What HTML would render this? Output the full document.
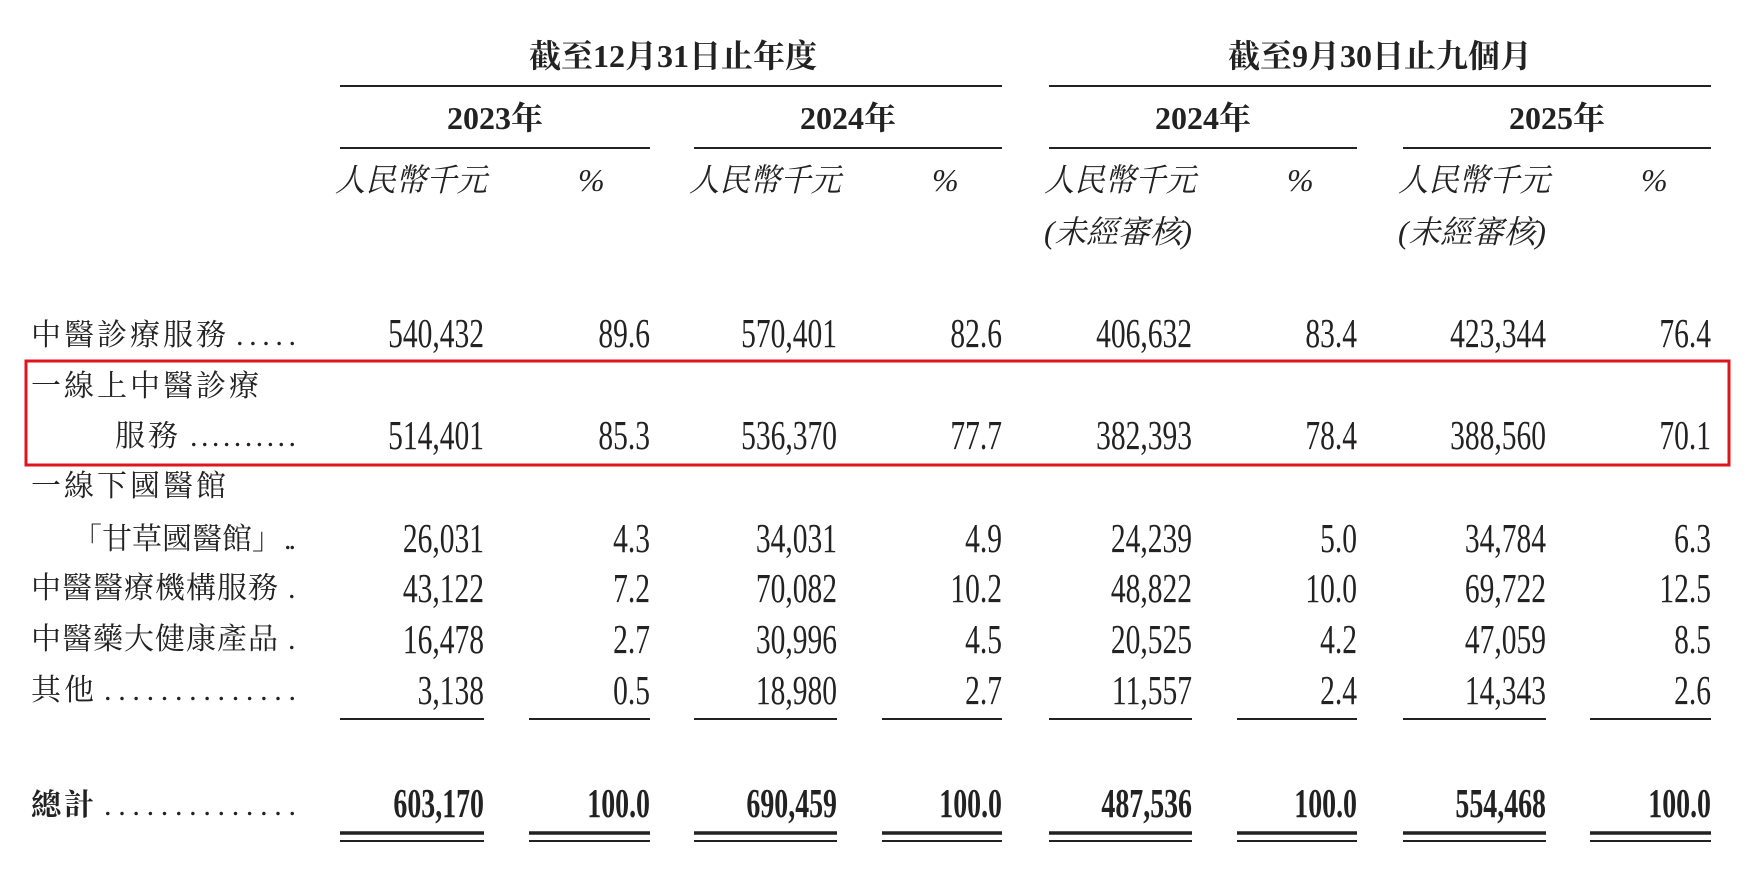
<!DOCTYPE html>
<html><head><meta charset="utf-8"><style>
html,body{margin:0;padding:0;background:#fff;}
svg{display:block}
.cj{font-family:"Liberation Serif","Noto Serif CJK SC","Noto Sans CJK TC",serif;fill:#222;}
.num{font-family:"Liberation Serif",serif;fill:#222;font-size:41px;}
</style></head><body>
<svg width="1750" height="876" viewBox="0 0 1750 876" xmlns="http://www.w3.org/2000/svg">
<g class="cj" font-size="32" text-anchor="middle" font-weight="bold">
<text x="673" y="67">截至12月31日止年度</text>
<text x="1380" y="67">截至9月30日止九個月</text>
<text x="495" y="129">2023年</text>
<text x="848" y="129">2024年</text>
<text x="1203" y="129">2024年</text>
<text x="1557" y="129">2025年</text>
</g>
<g stroke="#222" stroke-width="2">
<line x1="340" y1="86" x2="1002" y2="86"/><line x1="1049" y1="86" x2="1711" y2="86"/>
<line x1="340" y1="148" x2="650" y2="148"/><line x1="694" y1="148" x2="1002" y2="148"/>
<line x1="1049" y1="148" x2="1357" y2="148"/><line x1="1403" y1="148" x2="1711" y2="148"/>
</g>
<g class="cj" font-size="32" font-style="italic">
<text x="335" y="191" textLength="152" lengthAdjust="spacingAndGlyphs">人民幣千元</text><text x="578" y="191">%</text>
<text x="689" y="191" textLength="152" lengthAdjust="spacingAndGlyphs">人民幣千元</text><text x="932" y="191">%</text>
<text x="1044" y="191" textLength="152" lengthAdjust="spacingAndGlyphs">人民幣千元</text><text x="1287" y="191">%</text>
<text x="1044" y="243" textLength="148" lengthAdjust="spacingAndGlyphs">(未經審核)</text>
<text x="1398" y="191" textLength="152" lengthAdjust="spacingAndGlyphs">人民幣千元</text><text x="1641" y="191">%</text>
<text x="1398" y="243" textLength="148" lengthAdjust="spacingAndGlyphs">(未經審核)</text>
</g>
<g class="cj" font-size="30" letter-spacing="3">
<text x="31" y="345">中醫診療服務</text><text x="236" y="345" textLength="60" lengthAdjust="spacing" letter-spacing="0">.....</text>
<text x="31" y="396">一線上中醫診療</text>
<text x="115" y="446">服務</text><text x="190" y="446" textLength="106" lengthAdjust="spacing" letter-spacing="0">..........</text>
<text x="31" y="496">一線下國醫館</text>
<text x="72" y="549" letter-spacing="0">「甘草國醫館」</text><text x="284" y="549" textLength="12" lengthAdjust="spacing" letter-spacing="0">..</text>
<text x="31" y="598" letter-spacing="1">中醫醫療機構服務</text><text x="288" y="598" letter-spacing="0">.</text>
<text x="31" y="649" letter-spacing="1">中醫藥大健康產品</text><text x="288" y="649" letter-spacing="0">.</text>
<text x="31" y="700">其他</text><text x="104" y="700" textLength="192" lengthAdjust="spacing" letter-spacing="0">..............</text>
<text x="31" y="815" font-weight="bold">總計</text><text x="104" y="815" textLength="192" lengthAdjust="spacing" letter-spacing="0">..............</text>
</g>
<g class="num" text-anchor="end">
<g transform="translate(0,347)">
<text transform="translate(484,0) scale(0.72,1)">540,432</text><text transform="translate(650,0) scale(0.72,1)">89.6</text>
<text transform="translate(837,0) scale(0.72,1)">570,401</text><text transform="translate(1002,0) scale(0.72,1)">82.6</text>
<text transform="translate(1192,0) scale(0.72,1)">406,632</text><text transform="translate(1357,0) scale(0.72,1)">83.4</text>
<text transform="translate(1546,0) scale(0.72,1)">423,344</text><text transform="translate(1711,0) scale(0.72,1)">76.4</text>
</g>
<g transform="translate(0,449)">
<text transform="translate(484,0) scale(0.72,1)">514,401</text><text transform="translate(650,0) scale(0.72,1)">85.3</text>
<text transform="translate(837,0) scale(0.72,1)">536,370</text><text transform="translate(1002,0) scale(0.72,1)">77.7</text>
<text transform="translate(1192,0) scale(0.72,1)">382,393</text><text transform="translate(1357,0) scale(0.72,1)">78.4</text>
<text transform="translate(1546,0) scale(0.72,1)">388,560</text><text transform="translate(1711,0) scale(0.72,1)">70.1</text>
</g>
<g transform="translate(0,552)">
<text transform="translate(484,0) scale(0.72,1)">26,031</text><text transform="translate(650,0) scale(0.72,1)">4.3</text>
<text transform="translate(837,0) scale(0.72,1)">34,031</text><text transform="translate(1002,0) scale(0.72,1)">4.9</text>
<text transform="translate(1192,0) scale(0.72,1)">24,239</text><text transform="translate(1357,0) scale(0.72,1)">5.0</text>
<text transform="translate(1546,0) scale(0.72,1)">34,784</text><text transform="translate(1711,0) scale(0.72,1)">6.3</text>
</g>
<g transform="translate(0,602)">
<text transform="translate(484,0) scale(0.72,1)">43,122</text><text transform="translate(650,0) scale(0.72,1)">7.2</text>
<text transform="translate(837,0) scale(0.72,1)">70,082</text><text transform="translate(1002,0) scale(0.72,1)">10.2</text>
<text transform="translate(1192,0) scale(0.72,1)">48,822</text><text transform="translate(1357,0) scale(0.72,1)">10.0</text>
<text transform="translate(1546,0) scale(0.72,1)">69,722</text><text transform="translate(1711,0) scale(0.72,1)">12.5</text>
</g>
<g transform="translate(0,653)">
<text transform="translate(484,0) scale(0.72,1)">16,478</text><text transform="translate(650,0) scale(0.72,1)">2.7</text>
<text transform="translate(837,0) scale(0.72,1)">30,996</text><text transform="translate(1002,0) scale(0.72,1)">4.5</text>
<text transform="translate(1192,0) scale(0.72,1)">20,525</text><text transform="translate(1357,0) scale(0.72,1)">4.2</text>
<text transform="translate(1546,0) scale(0.72,1)">47,059</text><text transform="translate(1711,0) scale(0.72,1)">8.5</text>
</g>
<g transform="translate(0,704)">
<text transform="translate(484,0) scale(0.72,1)">3,138</text><text transform="translate(650,0) scale(0.72,1)">0.5</text>
<text transform="translate(837,0) scale(0.72,1)">18,980</text><text transform="translate(1002,0) scale(0.72,1)">2.7</text>
<text transform="translate(1192,0) scale(0.72,1)">11,557</text><text transform="translate(1357,0) scale(0.72,1)">2.4</text>
<text transform="translate(1546,0) scale(0.72,1)">14,343</text><text transform="translate(1711,0) scale(0.72,1)">2.6</text>
</g>
<g transform="translate(0,817)" font-weight="bold">
<text transform="translate(484,0) scale(0.68,1)">603,170</text><text transform="translate(650,0) scale(0.68,1)">100.0</text>
<text transform="translate(837,0) scale(0.68,1)">690,459</text><text transform="translate(1002,0) scale(0.68,1)">100.0</text>
<text transform="translate(1192,0) scale(0.68,1)">487,536</text><text transform="translate(1357,0) scale(0.68,1)">100.0</text>
<text transform="translate(1546,0) scale(0.68,1)">554,468</text><text transform="translate(1711,0) scale(0.68,1)">100.0</text>
</g>
</g>
<g stroke="#222">
<g stroke-width="2">
<line x1="340" y1="719" x2="484" y2="719"/><line x1="529" y1="719" x2="650" y2="719"/>
<line x1="694" y1="719" x2="837" y2="719"/><line x1="882" y1="719" x2="1002" y2="719"/>
<line x1="1049" y1="719" x2="1192" y2="719"/><line x1="1237" y1="719" x2="1357" y2="719"/>
<line x1="1403" y1="719" x2="1546" y2="719"/><line x1="1590" y1="719" x2="1711" y2="719"/>
</g>
<g stroke-width="3.5">
<line x1="340" y1="833" x2="484" y2="833"/><line x1="529" y1="833" x2="650" y2="833"/>
<line x1="694" y1="833" x2="837" y2="833"/><line x1="882" y1="833" x2="1002" y2="833"/>
<line x1="1049" y1="833" x2="1192" y2="833"/><line x1="1237" y1="833" x2="1357" y2="833"/>
<line x1="1403" y1="833" x2="1546" y2="833"/><line x1="1590" y1="833" x2="1711" y2="833"/>
</g>
<g stroke-width="2">
<line x1="340" y1="841" x2="484" y2="841"/><line x1="529" y1="841" x2="650" y2="841"/>
<line x1="694" y1="841" x2="837" y2="841"/><line x1="882" y1="841" x2="1002" y2="841"/>
<line x1="1049" y1="841" x2="1192" y2="841"/><line x1="1237" y1="841" x2="1357" y2="841"/>
<line x1="1403" y1="841" x2="1546" y2="841"/><line x1="1590" y1="841" x2="1711" y2="841"/>
</g>
</g>
<rect x="26" y="361" width="1703" height="104" fill="none" stroke="#e0141c" stroke-width="3"/>
</svg>
</body></html>
